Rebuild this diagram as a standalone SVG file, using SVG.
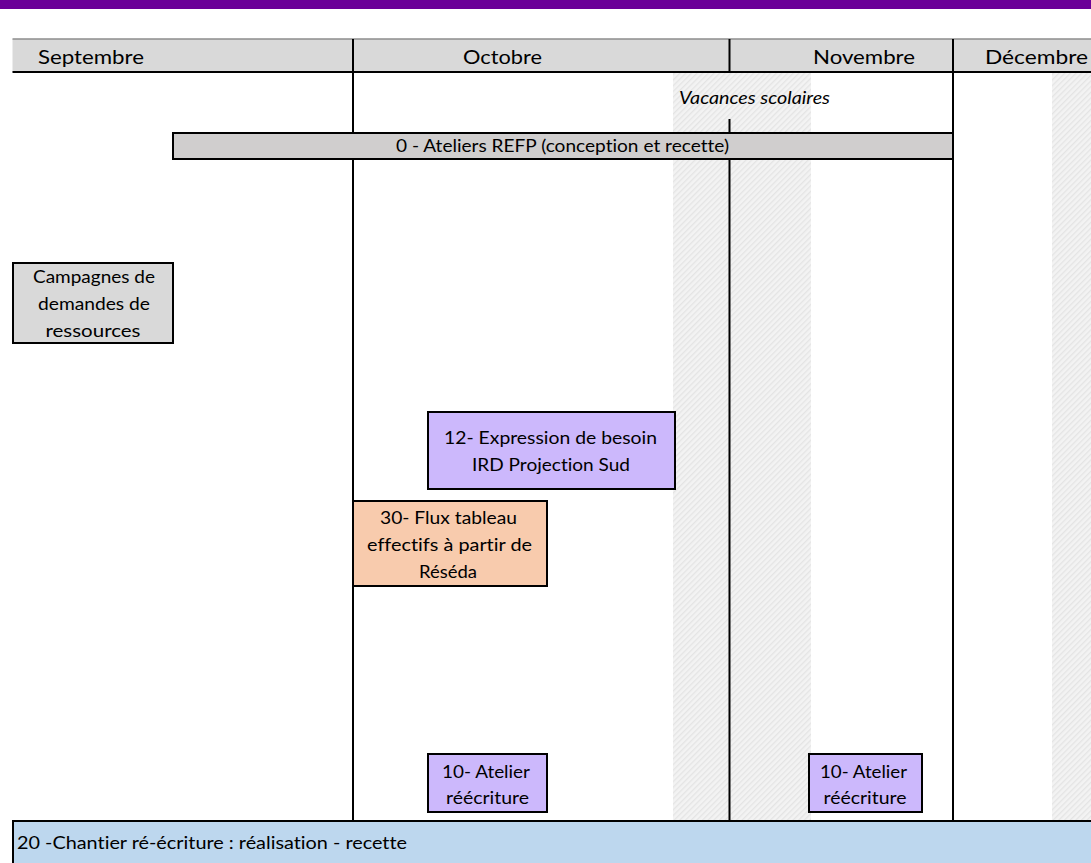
<svg xmlns="http://www.w3.org/2000/svg" width="1091" height="863" viewBox="0 0 1091 863">
<defs>
<pattern id="hatch" width="4" height="4" patternUnits="userSpaceOnUse" patternTransform="rotate(45)">
<rect width="4" height="4" fill="#f3f3f3"/>
<rect width="1.3" height="4" fill="#e4e4e4"/>
</pattern>
</defs>
<style>
text{font-family:Lato,"Liberation Sans",sans-serif;fill:#000;font-variant-ligatures:none;}
.h{font-size:20px;}
.t{font-size:18px;text-anchor:middle;}
.box{stroke:#000;stroke-width:2;}
.grid{stroke:#000;stroke-width:2;fill:none;}
</style>
<rect width="1091" height="863" fill="#fff"/>
<rect x="0" y="0" width="1091" height="9" fill="#6b0098"/>

<g id="hatches">
<rect x="673" y="72" width="138" height="749" fill="url(#hatch)"/>
<rect x="1052" y="72" width="39" height="749" fill="url(#hatch)"/>
</g>

<g id="header">
<rect x="12.5" y="39" width="1079" height="33" fill="#d9d9d9"/>
<line x1="12.5" y1="39" x2="1091" y2="39" stroke="#8c8c8c" stroke-width="1.5"/>
<line x1="12.5" y1="72" x2="1091" y2="72" stroke="#000" stroke-width="2"/>
<text class="h" x="38" y="64" textLength="106" lengthAdjust="spacingAndGlyphs">Septembre</text>
<text class="h" x="463" y="64" textLength="79" lengthAdjust="spacingAndGlyphs">Octobre</text>
<text class="h" x="813" y="64" textLength="102" lengthAdjust="spacingAndGlyphs">Novembre</text>
<text class="h" x="985" y="64" textLength="103" lengthAdjust="spacingAndGlyphs">Décembre</text>
</g>

<g id="connectors">
<line class="grid" x1="353" y1="39" x2="353" y2="821"/>
<line class="grid" x1="729.5" y1="39" x2="729.5" y2="72"/>
<line class="grid" x1="729.5" y1="119" x2="729.5" y2="821"/>
<line class="grid" x1="953" y1="39" x2="953" y2="821"/>
</g>

<g id="vacances">
<text x="679" y="104" font-size="18" font-style="italic" textLength="151" lengthAdjust="spacingAndGlyphs">Vacances scolaires</text>
</g>

<g id="node-refp">
<rect class="box" x="173" y="133" width="780" height="26" fill="#d0cece"/>
<text x="396" y="152" font-size="18" textLength="333" lengthAdjust="spacingAndGlyphs">0 - Ateliers REFP (conception et recette)</text>
</g>

<g id="node-campagnes">
<rect class="box" x="13" y="263" width="160" height="80" fill="#d9d9d9"/>
<text class="t" x="94" y="283" textLength="122" lengthAdjust="spacingAndGlyphs">Campagnes de</text>
<text class="t" x="94" y="310" textLength="112" lengthAdjust="spacingAndGlyphs">demandes de</text>
<text class="t" x="93" y="337" textLength="95" lengthAdjust="spacingAndGlyphs">ressources</text>
</g>

<g id="node-12">
<rect class="box" x="428" y="412" width="247" height="77" fill="#ccb8fc"/>
<text class="t" x="550.5" y="444" textLength="213" lengthAdjust="spacingAndGlyphs">12- Expression de besoin</text>
<text class="t" x="551" y="471" textLength="158" lengthAdjust="spacingAndGlyphs">IRD Projection Sud</text>
</g>

<g id="node-30">
<rect class="box" x="353" y="501" width="194" height="85" fill="#f8cbad"/>
<text class="t" x="448.5" y="524" textLength="137" lengthAdjust="spacingAndGlyphs">30- Flux tableau</text>
<text class="t" x="449.5" y="551" textLength="165" lengthAdjust="spacingAndGlyphs">effectifs à partir de</text>
<text class="t" x="448" y="578" textLength="58" lengthAdjust="spacingAndGlyphs">Réséda</text>
</g>

<g id="node-10a">
<rect class="box" x="428" y="754" width="119" height="58" fill="#ccb8fc"/>
<text class="t" x="486" y="778" textLength="88" lengthAdjust="spacingAndGlyphs">10- Atelier</text>
<text class="t" x="487.5" y="804" textLength="83" lengthAdjust="spacingAndGlyphs">réécriture</text>
</g>

<g id="node-10b">
<rect class="box" x="809" y="754" width="113" height="58" fill="#ccb8fc"/>
<text class="t" x="863.5" y="778" textLength="87" lengthAdjust="spacingAndGlyphs">10- Atelier</text>
<text class="t" x="865" y="804" textLength="83" lengthAdjust="spacingAndGlyphs">réécriture</text>
</g>

<g id="node-20">
<rect x="13" y="821" width="1078" height="42" fill="#bdd7ee"/>
<line x1="12" y1="821" x2="1091" y2="821" stroke="#000" stroke-width="2"/>
<line x1="13" y1="821" x2="13" y2="863" stroke="#000" stroke-width="2"/>
<text x="17" y="849" font-size="18" textLength="390" lengthAdjust="spacingAndGlyphs">20 -Chantier ré-écriture :  réalisation - recette</text>
</g>
</svg>
